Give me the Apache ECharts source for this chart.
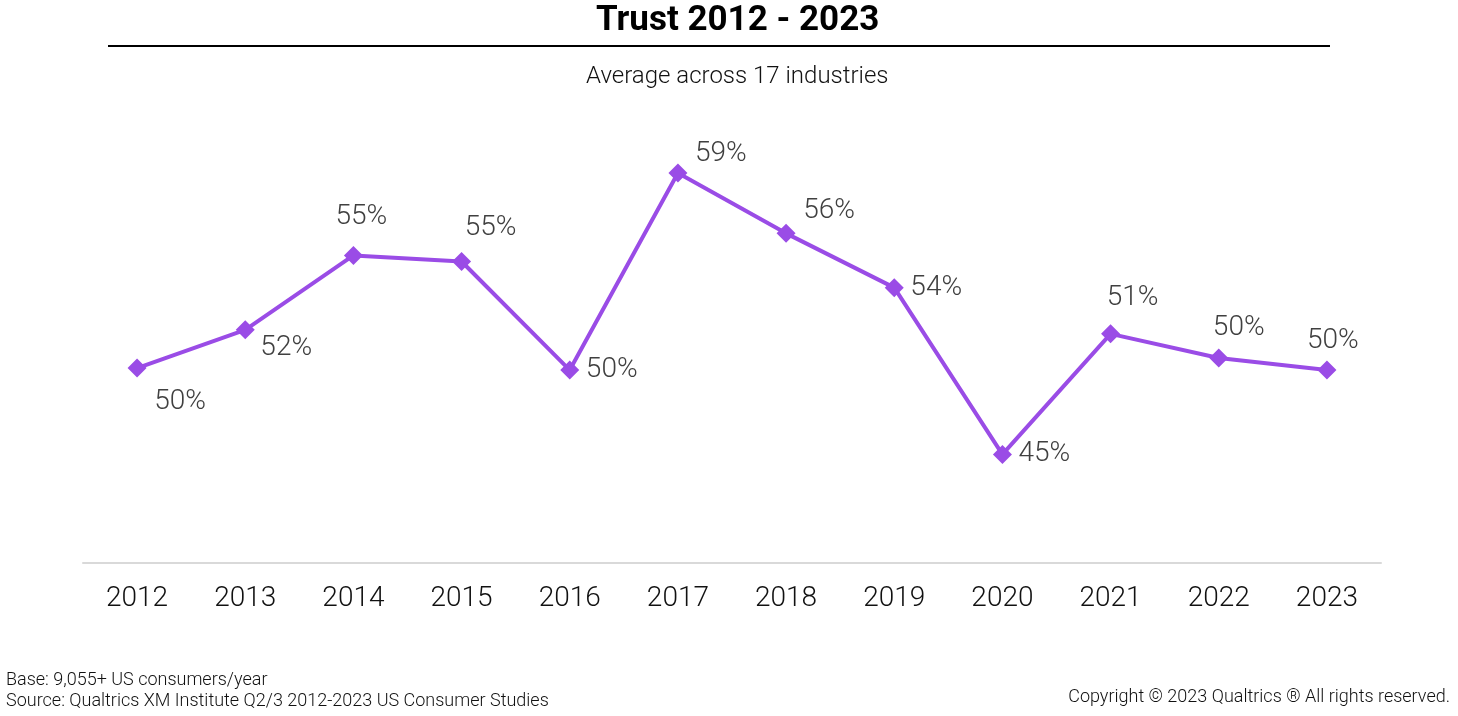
<!DOCTYPE html>
<html>
<head>
<meta charset="utf-8">
<script src="https://cdn.jsdelivr.net/npm/echarts@6/dist/echarts.min.js"></script>
<style>
html,body{margin:0;padding:0;background:#fff;}
#chart{width:1458px;height:716px;}
</style>
</head>
<body>
<div id="chart"></div>
<script>
const years = ['2012','2013','2014','2015','2016','2017','2018','2019','2020','2021','2022','2023'];
const trust = [49.7, 51.6, 55.3, 55.0, 49.6, 59.4, 56.4, 53.7, 45.4, 51.4, 50.2, 49.6];
const labelOffsets = [[43,34],[41,18],[8,-38],[29,-34],[42,0],[43,-19],[43,-22],[42,0],[42,0],[22,-36],[20,-30],[6,-29]];

const chart = echarts.init(document.getElementById('chart'));
const purple = '#9a4ce6';
chart.setOption({
  animation: false,
  title: [
    {text: 'Trust 2012 - 2023', left: 591, top: -1,
     textStyle: {fontFamily: 'Roboto', fontWeight: 'bold', fontSize: 35, color: '#000'}},
    {text: 'Average across 17 industries', left: 581, top: 60,
     textStyle: {fontFamily: 'Roboto', fontWeight: 300, fontSize: 24, color: '#111'}}
  ],
  graphic: [
    {type: 'line', shape: {x1: 108, y1: 46, x2: 1330, y2: 46}, style: {stroke: '#000', lineWidth: 2}},
    {type: 'text', left: 6, top: 670, style: {text: 'Base: 9,055+ US consumers/year\nSource: Qualtrics XM Institute Q2/3 2012-2023 US Consumer Studies', font: '300 18px Roboto', fill: '#111', lineHeight: 21}},
    {type: 'text', right: 8, top: 688, style: {text: 'Copyright © 2023 Qualtrics ® All rights reserved.', font: '300 18px Roboto', fill: '#111'}}
  ],
  grid: {left: 83, right: 77, top: 161, bottom: 153},
  xAxis: {
    type: 'category', data: years, boundaryGap: true,
    axisLine: {lineStyle: {color: '#d9d9d9', width: 2}},
    axisTick: {show: false},
    axisLabel: {fontFamily: 'Roboto', fontWeight: 300, fontSize: 28, color: '#111', margin: 22}
  },
  yAxis: {type: 'value', min: 40, max: 60, show: false, splitLine: {show: false}},
  series: [{
    type: 'line',
    data: trust.map((v, i) => ({
      value: v,
      label: {offset: labelOffsets[i]}
    })),
    symbol: 'diamond', symbolSize: 19,
    lineStyle: {color: purple, width: 4},
    itemStyle: {color: purple},
    label: {
      show: true, position: 'inside',
      formatter: p => Math.round(p.value) + '%',
      fontFamily: 'Roboto', fontWeight: 300, fontSize: 28, color: '#404040'
    }
  }]
});
</script>
</body>
</html>
